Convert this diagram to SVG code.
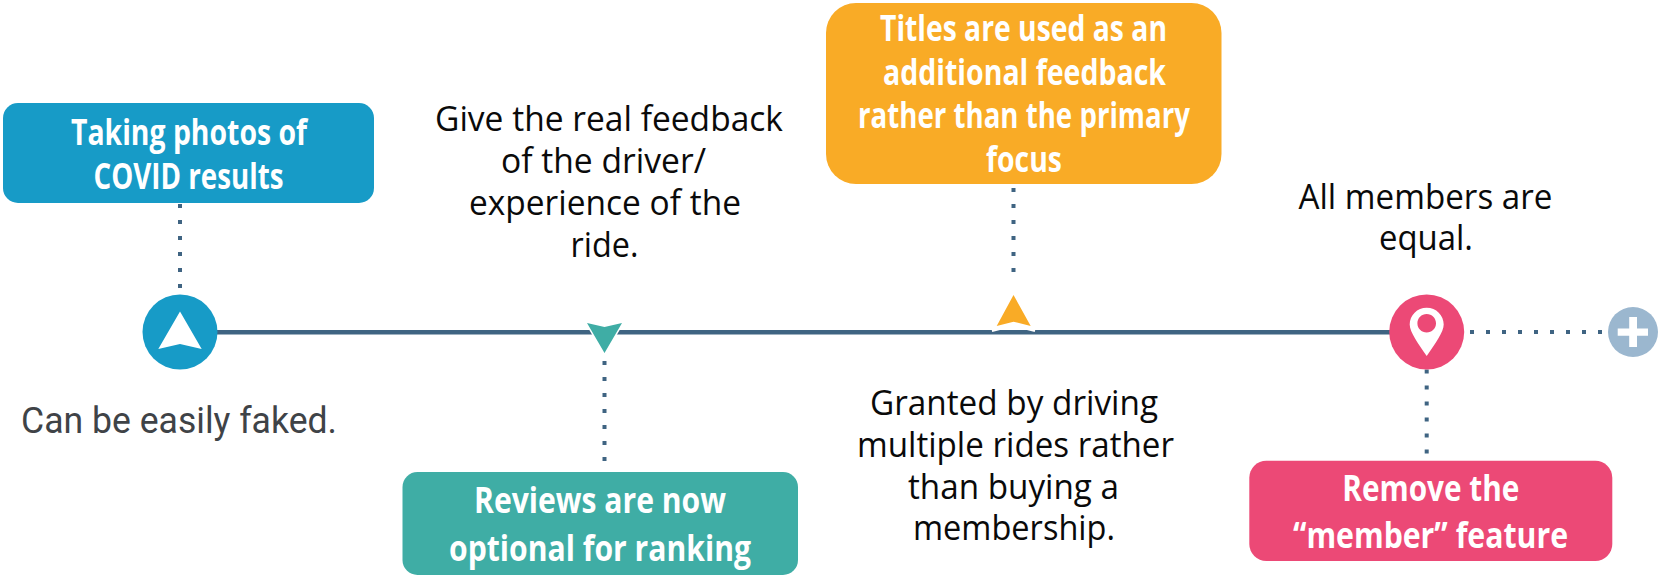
<svg xmlns="http://www.w3.org/2000/svg" width="1661" height="578" viewBox="0 0 1661 578">
<style>
.t{font-family:"Open Sans","Noto Sans","Liberation Sans",sans-serif;font-size:35.500px;font-weight:700;fill:#fff}
.b{font-family:"Open Sans","Noto Sans","Liberation Sans",sans-serif;font-size:34px;font-weight:400;fill:#0a0a0a}
.r{font-family:Roboto,"Liberation Sans",sans-serif;font-size:36.500px;fill:#3f4347}
.dot{fill:none;stroke:#3f6482;stroke-width:4;stroke-dasharray:4 12}
.main{stroke:#3f6482;stroke-width:4.500;fill:none}
</style>
<rect width="1661" height="578" fill="#fff"/>
<g id="connectors">
<line class="main" x1="205" y1="332.200" x2="1395" y2="332.200"/>
<line class="dot" x1="180" y1="204" x2="180" y2="290"/>
<line class="dot" x1="604.500" y1="361" x2="604.500" y2="463"/>
<line class="dot" x1="1013.500" y1="188" x2="1013.500" y2="274"/>
<line class="dot" x1="1426.700" y1="369.500" x2="1426.700" y2="455"/>
<line class="dot" x1="1470" y1="332" x2="1604" y2="332"/>
</g>
<g id="node-photos">
<rect x="3" y="103" width="371" height="100" rx="15" fill="#179bc7"/>
<text class="t" x="71" y="144.500" textLength="236" lengthAdjust="spacingAndGlyphs">Taking photos of</text>
<text class="t" x="93.500" y="188.500" textLength="190" lengthAdjust="spacingAndGlyphs">COVID results</text>
</g>
<g id="marker-photos">
<circle cx="180" cy="332" r="37.500" fill="#179bc7"/>
<path d="M180 311.500L201.700 349L180 344L158.300 349Z" fill="#fff"/>
</g>
<text id="label-faked" class="r" x="21" y="433" textLength="316" lengthAdjust="spacingAndGlyphs">Can be easily faked.</text>
<g id="label-feedback">
<text class="b" x="435" y="131" textLength="348" lengthAdjust="spacingAndGlyphs">Give the real feedback</text>
<text class="b" x="501" y="173" textLength="205" lengthAdjust="spacingAndGlyphs">of the driver/</text>
<text class="b" x="469" y="215" textLength="272" lengthAdjust="spacingAndGlyphs">experience of the</text>
<text class="b" x="570.500" y="257" textLength="68" lengthAdjust="spacingAndGlyphs">ride.</text>
</g>
<g id="marker-reviews">
<path d="M587 323L604.500 327L622 323L604.500 353Z" fill="#3fada5" stroke="#fff" stroke-width="3" stroke-linejoin="miter" paint-order="stroke"/>
</g>
<g id="node-reviews">
<rect x="402.500" y="472" width="395.500" height="103" rx="15" fill="#3fada5"/>
<text class="t" x="474" y="513" textLength="252" lengthAdjust="spacingAndGlyphs">Reviews are now</text>
<text class="t" x="449" y="560.500" textLength="302" lengthAdjust="spacingAndGlyphs">optional for ranking</text>
</g>
<g id="node-titles">
<rect x="826" y="3" width="395.500" height="181" rx="30" fill="#f9ab26"/>
<text class="t" x="880" y="41" textLength="287" lengthAdjust="spacingAndGlyphs">Titles are used as an</text>
<text class="t" x="883" y="84.500" textLength="283" lengthAdjust="spacingAndGlyphs">additional feedback</text>
<text class="t" x="858" y="128" textLength="332" lengthAdjust="spacingAndGlyphs">rather than the primary</text>
<text class="t" x="986" y="172" textLength="76" lengthAdjust="spacingAndGlyphs">focus</text>
</g>
<g id="marker-titles">
<path d="M992 331L1013.500 325.500L1035 331" fill="none" stroke="#fff" stroke-width="2"/>
<path d="M1013.500 295L1030.700 326L1013.500 321.700L996.700 326Z" fill="#f9ab26"/>
</g>
<g id="label-granted">
<text class="b" x="870" y="414.500" textLength="288" lengthAdjust="spacingAndGlyphs">Granted by driving</text>
<text class="b" x="857" y="456.500" textLength="317" lengthAdjust="spacingAndGlyphs">multiple rides rather</text>
<text class="b" x="908" y="498.500" textLength="211" lengthAdjust="spacingAndGlyphs">than buying a</text>
<text class="b" x="913" y="540" textLength="202" lengthAdjust="spacingAndGlyphs">membership.</text>
</g>
<g id="label-members">
<text class="b" x="1298.500" y="208.500" textLength="254" lengthAdjust="spacingAndGlyphs">All members are</text>
<text class="b" x="1379" y="250" textLength="94" lengthAdjust="spacingAndGlyphs">equal.</text>
</g>
<g id="marker-member">
<circle cx="1426.700" cy="332" r="37.500" fill="#ec4976"/>
<path fill-rule="evenodd" fill="#fff" d="M1426.700 307.700C1436.200 307.700 1443.700 315.200 1443.700 324.500C1443.700 332 1435 344 1426.700 356C1418.400 344 1409.700 332 1409.700 324.500C1409.700 315.200 1417.200 307.700 1426.700 307.700ZM1426.700 314C1421.500 314 1417.400 318.100 1417.400 323.300C1417.400 328.500 1421.500 332.600 1426.700 332.600C1431.900 332.600 1436 328.500 1436 323.300C1436 318.100 1431.900 314 1426.700 314Z"/>
</g>
<g id="node-remove">
<rect x="1249.300" y="460.700" width="363" height="100.300" rx="17" fill="#ec4976"/>
<text class="t" x="1342.300" y="500.500" textLength="177" lengthAdjust="spacingAndGlyphs">Remove the</text>
<text class="t" x="1293" y="548" textLength="275" lengthAdjust="spacingAndGlyphs">“member” feature</text>
</g>
<g id="node-plus">
<circle cx="1633" cy="332" r="25" fill="#9bb7cf"/>
<path d="M1617.700 328.400H1629.200V317H1637V328.400H1648V335.700H1637V347H1629.200V335.700H1617.700Z" fill="#fff"/>
</g>
</svg>
